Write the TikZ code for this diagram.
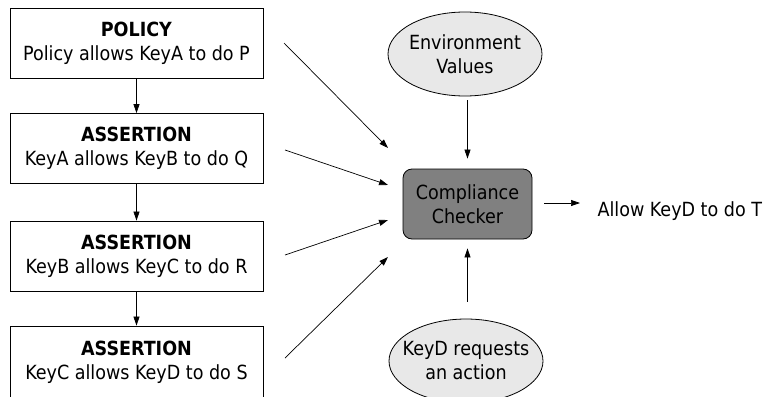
\documentclass[tikz,border=0pt]{standalone}
\usepackage{fontspec}
\setmainfont{DejaVu Sans Condensed}
\usetikzlibrary{arrows.meta,shapes.geometric}
\begin{document}
\begin{tikzpicture}[x=1pt,y=-1pt,
  font=\fontsize{19.5}{24}\selectfont,
  stepbox/.style={draw, line width=0.8pt, minimum width=253pt, minimum height=70pt,
    inner sep=0pt, align=center},
  oval/.style={draw, ellipse, line width=0.8pt, fill=black!9, minimum width=154pt,
    minimum height=84pt, inner xsep=-10pt, inner ysep=0pt, align=center},
  checker/.style={draw, line width=0.8pt, rounded corners=9pt, fill=black!50,
    minimum width=129pt, minimum height=70pt, inner sep=0pt, align=center},
  conn/.style={line width=0.7pt, -{Triangle[length=9pt,width=6pt]}}]
  \useasboundingbox (0,0) rectangle (767,396);

  % chain of delegation
  \node[stepbox] (b1) at (136.5,43) {\textbf{POLICY}\\Policy allows KeyA to do P};
  \node[stepbox] (b2) at (136.5,148.5) {\textbf{ASSERTION}\\KeyA allows KeyB to do Q};
  \node[stepbox] (b3) at (136.5,256) {\textbf{ASSERTION}\\KeyB allows KeyC to do R};
  \node[stepbox, minimum height=72pt] (b4) at (136.5,362) {\textbf{ASSERTION}\\KeyC allows KeyD to do S};

  \draw[conn] (b1) -- (b2);
  \draw[conn] (b2) -- (b3);
  \draw[conn] (b3) -- (b4);

  % checker and its inputs
  \node[checker] (cc) at (467.5,204) {Compliance\\Checker};
  \node[oval] (env) at (465,54) {Environment\\Values};
  \node[oval] (req) at (466,361) {KeyD requests\\an action};
  \node[anchor=west] (out) at (594,211) {Allow KeyD to do T};

  \coordinate (s1) at (284,43);
  \coordinate (s2) at (285,150);
  \coordinate (s3) at (285,255);
  \coordinate (s4) at (285,358);
  \coordinate (e1) at (388,148);
  \coordinate (e2) at (388,185);
  \coordinate (e3) at (388,220);
  \coordinate (e4) at (388,257);

  \draw[conn] (s1) -- (e1);
  \draw[conn] (s2) -- (e2);
  \draw[conn] (s3) -- (e3);
  \draw[conn] (s4) -- (e4);

  \draw[conn, shorten <=4pt, shorten >=10pt] (env.south -| cc.north) -- (cc.north);
  \draw[conn, shorten <=17pt, shorten >=9pt] (req.north -| cc.south) -- (cc.south);
  \draw[conn, shorten <=12pt, shorten >=14pt] ([yshift=1pt]cc.east) -- ([yshift=1pt]cc.east -| out.west);
\end{tikzpicture}
\end{document}
